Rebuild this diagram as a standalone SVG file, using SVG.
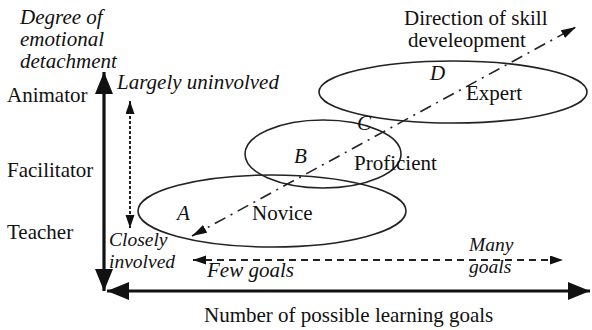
<svg xmlns="http://www.w3.org/2000/svg" width="592" height="330" viewBox="0 0 592 330">
<style>
text{font-family:"Liberation Serif","Times New Roman",serif;font-size:21px;fill:#111}
.i{font-style:italic}
.s{font-size:19.5px}
.ell{fill:none;stroke:#222;stroke-width:1.6}
.axis{stroke:#111;stroke-width:3.2;fill:none}
.dot{stroke:#222;stroke-width:2;stroke-dasharray:3 2;fill:none}
.dash{stroke:#222;stroke-width:1.8;stroke-dasharray:7 5;fill:none}
.dd{stroke:#222;stroke-width:1.6;stroke-dasharray:12 6 2 6;fill:none}
</style>
<defs>
<marker id="big" markerUnits="userSpaceOnUse" markerWidth="24" markerHeight="20" refX="22" refY="9" orient="auto-start-reverse"><path d="M0,0 L22,9 L0,18 Z" fill="#111"/></marker>
<marker id="small" markerUnits="userSpaceOnUse" markerWidth="14" markerHeight="10" refX="13" refY="4.5" orient="auto-start-reverse"><path d="M0,0 L13,4.5 L0,9 Z" fill="#111"/></marker>
<marker id="diag" markerUnits="userSpaceOnUse" markerWidth="16" markerHeight="10" refX="15" refY="4.5" orient="auto-start-reverse"><path d="M0,0 L15,4.5 L0,9 Z" fill="#111"/></marker>
</defs>
<g id="ellipses">
<g id="novice"><ellipse class="ell" cx="272" cy="211" rx="134" ry="36"/><text x="252" y="220">Novice</text><text class="i" x="177" y="220">A</text></g>
<g id="proficient"><ellipse class="ell" cx="323" cy="154" rx="78" ry="34"/><text x="354" y="170">Proficient</text><text class="i" x="294" y="163">B</text></g>
<g id="expert"><ellipse class="ell" cx="453" cy="92" rx="134" ry="31"/><text x="466" y="100">Expert</text><text class="i" x="430" y="80">D</text></g>
<text class="i" x="357" y="130">C</text>
</g>
<g id="connectors">
<line class="axis" x1="104" y1="72" x2="104" y2="291" marker-start="url(#big)" marker-end="url(#big)"/>
<line class="axis" x1="107" y1="291" x2="590" y2="291" marker-start="url(#big)" marker-end="url(#big)"/>
<line class="dot" x1="130" y1="101" x2="130" y2="228" marker-start="url(#small)" marker-end="url(#small)"/>
<line class="dash" x1="193" y1="260" x2="563" y2="260" marker-start="url(#small)" marker-end="url(#small)"/>
<line class="dd" x1="192" y1="236" x2="576" y2="27" marker-start="url(#diag)" marker-end="url(#diag)"/>
</g>
<g id="labels">
<text class="i" x="20" y="24">Degree of</text>
<text class="i" x="20" y="46">emotional</text>
<text class="i" x="20" y="68">detachment</text>
<text x="7" y="102">Animator</text>
<text x="7" y="177">Facilitator</text>
<text x="7" y="239">Teacher</text>
<text class="i" x="117" y="89">Largely uninvolved</text>
<text class="i s" x="109" y="246">Closely</text>
<text class="i s" x="109" y="268">involved</text>
<text class="i" x="207" y="277">Few goals</text>
<text class="i s" x="469" y="251">Many</text>
<text class="i s" x="469" y="273">goals</text>
<text x="204" y="322">Number of possible learning goals</text>
<text x="404" y="25">Direction of skill</text>
<text x="408" y="47">develeopment</text>
</g>
</svg>
